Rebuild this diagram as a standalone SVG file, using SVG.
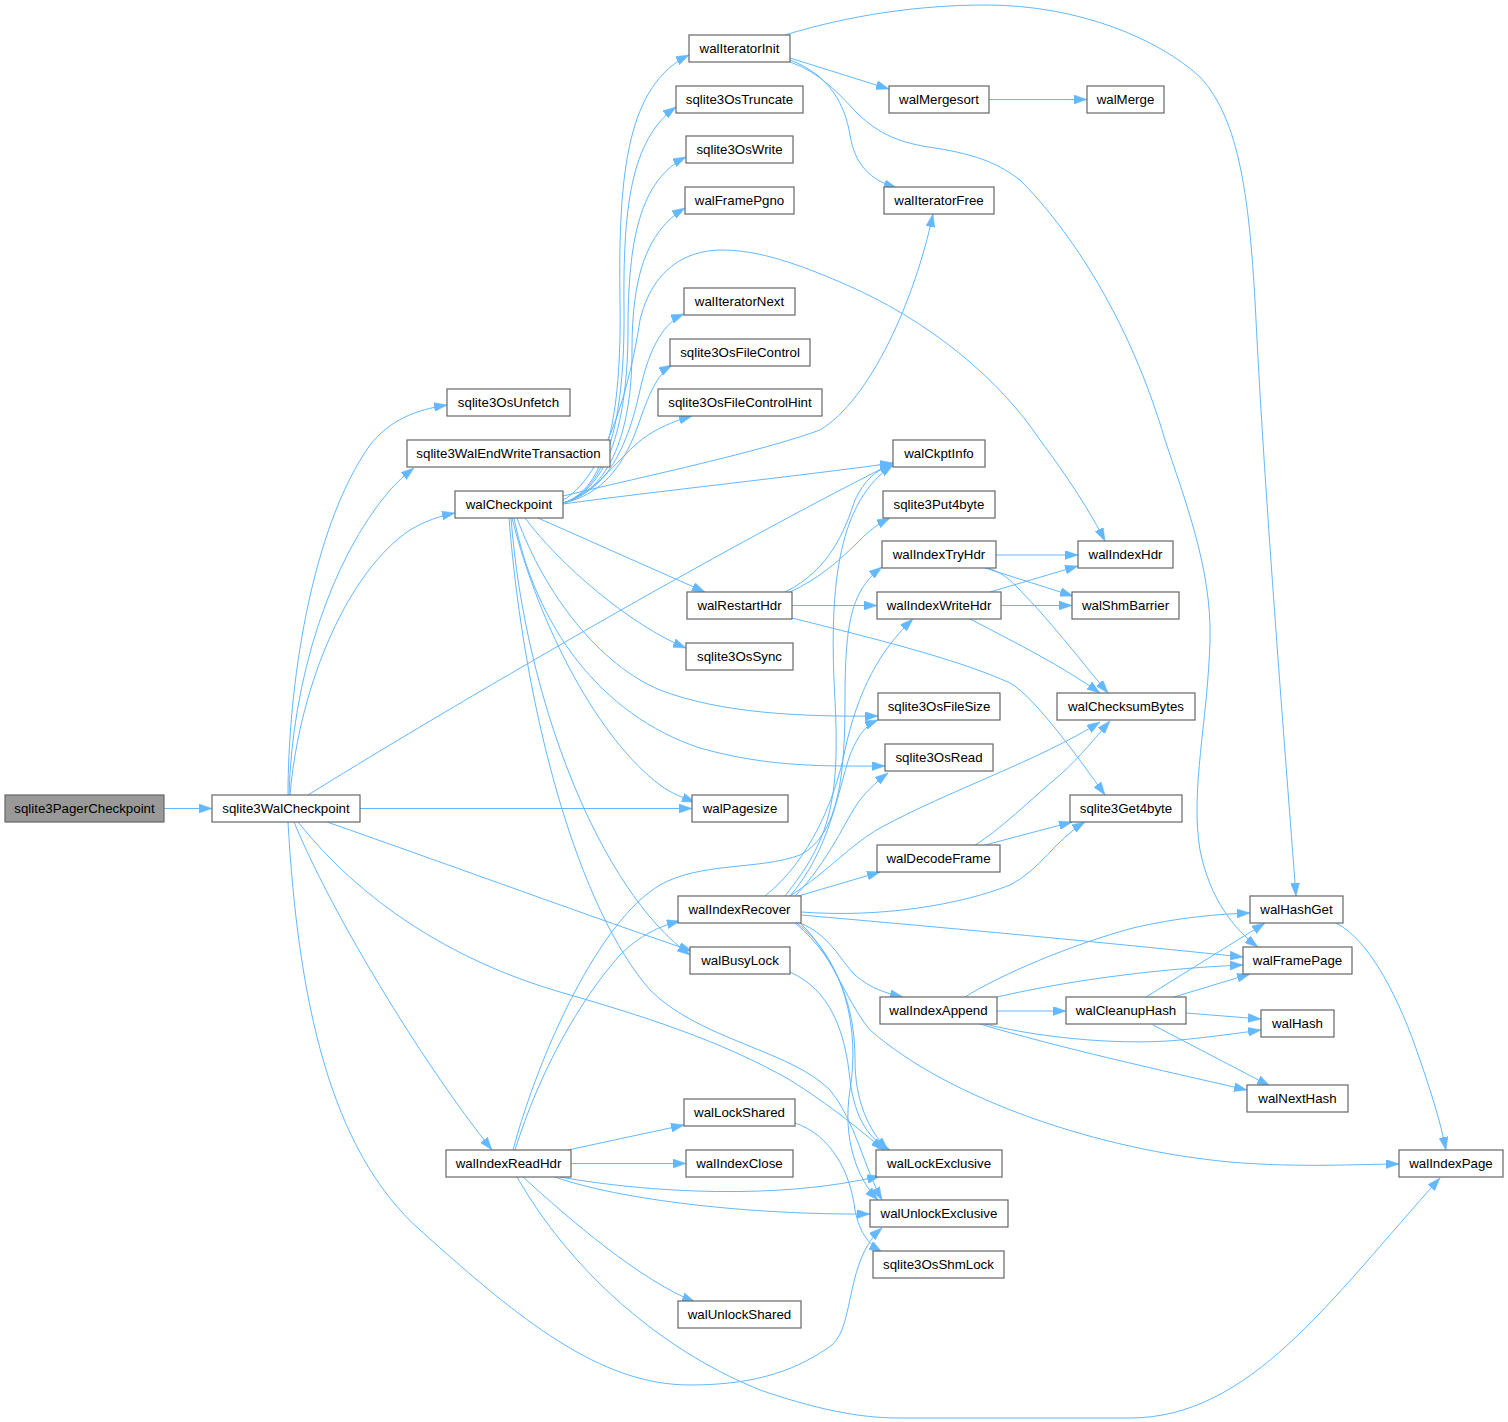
<svg xmlns="http://www.w3.org/2000/svg" width="1508" height="1422" viewBox="0 0 1508 1422">
<style>
.n rect{fill:#ffffff;stroke:#666666;stroke-width:1.2}
.n.root rect{fill:#999999}
.n text{font-family:"Liberation Sans",Arial,sans-serif;font-size:13.3px;fill:#000000;text-anchor:middle}
.e path{fill:none;stroke:#63b8ff;stroke-width:1;marker-end:url(#ah)}
</style>
<defs>
<marker id="ah" markerUnits="userSpaceOnUse" markerWidth="13" markerHeight="9" refX="13" refY="4.5" orient="auto" viewBox="0 0 13 9">
<path d="M0,0 L13,4.5 L0,9 z" fill="#63b8ff" stroke="#63b8ff" stroke-width="0.5"/>
</marker>
</defs>
<rect width="1508" height="1422" fill="#ffffff"/>
<g id="edges" class="e">
<path d="M164,808.5 L212,808.5"/>
<path d="M288,795 C288,690 310,530 370,445 C390,420 415,410 447,405"/>
<path d="M289,795 C292,680 330,560 390,490 C398,481 405,475 414,468"/>
<path d="M290,795 C300,680 350,570 410,530 C425,521 440,516 455,513"/>
<path d="M308,795 C420,725 700,560 893,463"/>
<path d="M360,808.5 L692,808.5"/>
<path d="M327,822 C450,865 600,920 692,951"/>
<path d="M298,822 C360,900 450,960 560,992 C640,1015 720,1040 790,1080 C830,1105 860,1130 884,1150"/>
<path d="M294,822 C330,910 420,1060 492,1150"/>
<path d="M288,822 C298,1000 330,1150 420,1230 C520,1320 600,1385 690,1385 C760,1385 800,1368 832,1345 C855,1325 845,1260 882,1228"/>
<path d="M563,503 C605,490 622,420 620,300 C618,170 628,85 689,55"/>
<path d="M563,503 C607,490 625,420 624,310 C623,210 630,140 676,107"/>
<path d="M563,503 C609,490 628,420 628,330 C628,240 640,180 686,157"/>
<path d="M563,503 C611,490 632,430 632,350 C632,280 645,232 685,208"/>
<path d="M563,500 C600,480 628,400 640,320 C652,270 685,250 722,250 C760,250 800,265 840,282 C930,320 1000,380 1040,440 C1070,480 1092,515 1105,541"/>
<path d="M563,503 C603,492 626,455 640,390 C650,345 665,322 684,314"/>
<path d="M563,503 C602,495 625,465 640,420 C650,390 660,372 672,365"/>
<path d="M563,503 C600,492 618,455 648,435 C664,425 678,420 692,416"/>
<path d="M563,496 C650,475 760,452 820,430 C870,400 915,300 933,214"/>
<path d="M563,504 C650,492 800,476 893,463"/>
<path d="M538,518 L705,592"/>
<path d="M525,518 C560,565 630,625 686,648"/>
<path d="M517,518 C545,595 600,665 660,690 C720,713 800,717 878,716"/>
<path d="M514,518 C535,625 600,715 700,748 C770,768 830,766 885,766"/>
<path d="M512,518 C540,630 600,740 660,785 C672,794 684,798 695,802"/>
<path d="M511,518 C525,700 600,890 690,955"/>
<path d="M509,518 C525,720 580,910 650,990 C700,1040 790,1050 830,1090 C855,1120 865,1170 882,1200"/>
<path d="M790,58 L889,89"/>
<path d="M790,60 C830,75 845,105 850,135 C855,165 870,180 897,188"/>
<path d="M790,62 C820,72 840,95 857,113 C880,135 900,143 935,148 C980,155 1000,165 1020,180 C1070,230 1130,320 1165,440 C1185,500 1212,570 1210,640 C1208,720 1190,790 1200,850 C1210,900 1235,930 1258,947"/>
<path d="M785,35 C850,15 920,5 986,5 C1080,5 1160,40 1200,77 C1240,120 1250,200 1256,320 C1265,500 1285,750 1296,896"/>
<path d="M989,99.5 L1087,99.5"/>
<path d="M785,592 C830,570 845,530 855,500 C865,480 875,470 893,465"/>
<path d="M790,592 C820,578 840,560 860,540 C870,530 878,524 890,518"/>
<path d="M792,605.5 L877,605.5"/>
<path d="M792,618 C880,640 960,660 1010,683 C1035,697 1080,760 1105,795"/>
<path d="M996,555 L1078,555"/>
<path d="M985,568 L1073,596"/>
<path d="M988,568 C1000,572 1008,578 1015,585 C1050,620 1080,660 1108,693"/>
<path d="M990,592 L1078,566"/>
<path d="M1001,605.5 L1072,605.5"/>
<path d="M970,619 C1020,645 1060,665 1100,693"/>
<path d="M985,845 L1072,822"/>
<path d="M975,845 C1000,830 1030,800 1060,775 C1080,757 1095,738 1110,721"/>
<path d="M785,896 C830,840 840,800 835,700 C828,580 840,500 893,465"/>
<path d="M790,896 C830,850 838,790 850,755 C858,735 866,725 878,720"/>
<path d="M795,896 C830,860 845,820 860,800 C868,790 876,782 888,773"/>
<path d="M795,897 L880,872"/>
<path d="M790,896 C830,870 850,845 880,828 C950,790 1040,760 1100,722"/>
<path d="M801,912 C880,918 960,905 1010,885 C1040,870 1055,840 1085,822"/>
<path d="M801,915 C950,928 1100,942 1243,957"/>
<path d="M800,923 C830,935 840,960 855,975 C870,988 885,993 903,997"/>
<path d="M800,923 C830,950 845,1000 870,1030 C950,1100 1100,1150 1230,1162 C1300,1168 1360,1164 1399,1164"/>
<path d="M795,923 C840,960 855,1010 855,1060 C855,1100 868,1130 888,1150"/>
<path d="M797,923 C845,960 860,1030 850,1090 C842,1140 858,1180 878,1200"/>
<path d="M765,896 C810,860 835,800 845,750 C858,690 880,650 913,619"/>
<path d="M513,1150 C540,1050 600,920 660,885 C700,862 760,870 800,855 C840,835 845,770 845,700 C845,620 852,590 882,567"/>
<path d="M515,1150 C540,1070 580,1000 620,955 C640,935 660,926 680,921"/>
<path d="M568,1150 L684,1125"/>
<path d="M571,1163.5 L686,1163.5"/>
<path d="M560,1177 C650,1193 780,1200 880,1176"/>
<path d="M555,1177 C620,1200 750,1215 870,1214"/>
<path d="M523,1177 C570,1220 640,1280 695,1302"/>
<path d="M517,1177 C570,1270 660,1350 760,1390 C830,1414 870,1418 900,1418 L1130,1418 C1250,1418 1330,1300 1440,1178"/>
<path d="M790,972 C830,990 845,1030 850,1080 C855,1120 870,1140 890,1150"/>
<path d="M795,1123 C830,1135 850,1170 855,1210 C860,1235 870,1245 882,1252"/>
<path d="M965,997 C1000,975 1070,945 1133,928 C1180,917 1220,914 1250,913"/>
<path d="M997,997 C1080,978 1170,968 1243,965"/>
<path d="M997,1011 L1066,1011"/>
<path d="M985,1024 C1050,1040 1130,1045 1180,1040 C1210,1037 1240,1033 1261,1030"/>
<path d="M980,1024 C1060,1048 1160,1070 1247,1090"/>
<path d="M1146,997 L1265,923"/>
<path d="M1174,997 L1250,974"/>
<path d="M1186,1013 L1261,1019"/>
<path d="M1153,1025 L1270,1086"/>
<path d="M1336,923 C1370,940 1400,1000 1420,1060 C1432,1095 1440,1120 1446,1150"/>
</g>
<g id="sqlite3PagerCheckpoint" class="n root"><rect x="5" y="795" width="159" height="27"/><text x="84.5" y="813">sqlite3PagerCheckpoint</text></g>
<g id="sqlite3WalCheckpoint" class="n"><rect x="212" y="795" width="148" height="27"/><text x="286" y="813">sqlite3WalCheckpoint</text></g>
<g id="sqlite3OsUnfetch" class="n"><rect x="447" y="389" width="123" height="27"/><text x="508.5" y="407">sqlite3OsUnfetch</text></g>
<g id="sqlite3WalEndWriteTransaction" class="n"><rect x="407" y="440" width="203" height="27"/><text x="508.5" y="458">sqlite3WalEndWriteTransaction</text></g>
<g id="walCheckpoint" class="n"><rect x="455" y="491" width="108" height="27"/><text x="509" y="509">walCheckpoint</text></g>
<g id="walIndexReadHdr" class="n"><rect x="446" y="1150" width="125" height="27"/><text x="508.5" y="1168">walIndexReadHdr</text></g>
<g id="walIteratorInit" class="n"><rect x="689" y="35" width="101" height="27"/><text x="739.5" y="53">walIteratorInit</text></g>
<g id="sqlite3OsTruncate" class="n"><rect x="676" y="86" width="127" height="27"/><text x="739.5" y="104">sqlite3OsTruncate</text></g>
<g id="sqlite3OsWrite" class="n"><rect x="686" y="136" width="107" height="27"/><text x="739.5" y="154">sqlite3OsWrite</text></g>
<g id="walFramePgno" class="n"><rect x="685" y="187" width="109" height="27"/><text x="739.5" y="205">walFramePgno</text></g>
<g id="walIteratorNext" class="n"><rect x="684" y="288" width="111" height="27"/><text x="739.5" y="306">walIteratorNext</text></g>
<g id="sqlite3OsFileControl" class="n"><rect x="670" y="339" width="140" height="27"/><text x="740" y="357">sqlite3OsFileControl</text></g>
<g id="sqlite3OsFileControlHint" class="n"><rect x="658" y="389" width="164" height="27"/><text x="740" y="407">sqlite3OsFileControlHint</text></g>
<g id="walRestartHdr" class="n"><rect x="687" y="592" width="105" height="27"/><text x="739.5" y="610">walRestartHdr</text></g>
<g id="sqlite3OsSync" class="n"><rect x="686" y="643" width="107" height="27"/><text x="739.5" y="661">sqlite3OsSync</text></g>
<g id="walPagesize" class="n"><rect x="692" y="795" width="96" height="27"/><text x="740" y="813">walPagesize</text></g>
<g id="walIndexRecover" class="n"><rect x="678" y="896" width="123" height="27"/><text x="739.5" y="914">walIndexRecover</text></g>
<g id="walBusyLock" class="n"><rect x="690" y="947" width="100" height="27"/><text x="740" y="965">walBusyLock</text></g>
<g id="walLockShared" class="n"><rect x="684" y="1099" width="111" height="27"/><text x="739.5" y="1117">walLockShared</text></g>
<g id="walIndexClose" class="n"><rect x="686" y="1150" width="107" height="27"/><text x="739.5" y="1168">walIndexClose</text></g>
<g id="walUnlockShared" class="n"><rect x="678" y="1301" width="123" height="27"/><text x="739.5" y="1319">walUnlockShared</text></g>
<g id="walMergesort" class="n"><rect x="889" y="86" width="100" height="27"/><text x="939" y="104">walMergesort</text></g>
<g id="walIteratorFree" class="n"><rect x="884" y="187" width="110" height="27"/><text x="939" y="205">walIteratorFree</text></g>
<g id="walCkptInfo" class="n"><rect x="893" y="440" width="92" height="27"/><text x="939" y="458">walCkptInfo</text></g>
<g id="sqlite3Put4byte" class="n"><rect x="883" y="491" width="112" height="27"/><text x="939" y="509">sqlite3Put4byte</text></g>
<g id="walIndexTryHdr" class="n"><rect x="882" y="541" width="114" height="27"/><text x="939" y="559">walIndexTryHdr</text></g>
<g id="walIndexWriteHdr" class="n"><rect x="877" y="592" width="124" height="27"/><text x="939" y="610">walIndexWriteHdr</text></g>
<g id="sqlite3OsFileSize" class="n"><rect x="878" y="693" width="122" height="27"/><text x="939" y="711">sqlite3OsFileSize</text></g>
<g id="sqlite3OsRead" class="n"><rect x="885" y="744" width="108" height="27"/><text x="939" y="762">sqlite3OsRead</text></g>
<g id="walDecodeFrame" class="n"><rect x="877" y="845" width="123" height="27"/><text x="938.5" y="863">walDecodeFrame</text></g>
<g id="walIndexAppend" class="n"><rect x="880" y="997" width="117" height="27"/><text x="938.5" y="1015">walIndexAppend</text></g>
<g id="walLockExclusive" class="n"><rect x="876" y="1150" width="126" height="27"/><text x="939" y="1168">walLockExclusive</text></g>
<g id="walUnlockExclusive" class="n"><rect x="870" y="1200" width="138" height="27"/><text x="939" y="1218">walUnlockExclusive</text></g>
<g id="sqlite3OsShmLock" class="n"><rect x="873" y="1251" width="131" height="27"/><text x="938.5" y="1269">sqlite3OsShmLock</text></g>
<g id="walMerge" class="n"><rect x="1087" y="86" width="77" height="27"/><text x="1125.5" y="104">walMerge</text></g>
<g id="walIndexHdr" class="n"><rect x="1078" y="541" width="95" height="27"/><text x="1125.5" y="559">walIndexHdr</text></g>
<g id="walShmBarrier" class="n"><rect x="1072" y="592" width="107" height="27"/><text x="1125.5" y="610">walShmBarrier</text></g>
<g id="walChecksumBytes" class="n"><rect x="1057" y="693" width="138" height="27"/><text x="1126" y="711">walChecksumBytes</text></g>
<g id="sqlite3Get4byte" class="n"><rect x="1070" y="795" width="112" height="27"/><text x="1126" y="813">sqlite3Get4byte</text></g>
<g id="walCleanupHash" class="n"><rect x="1066" y="997" width="120" height="27"/><text x="1126" y="1015">walCleanupHash</text></g>
<g id="walHashGet" class="n"><rect x="1250" y="896" width="93" height="27"/><text x="1296.5" y="914">walHashGet</text></g>
<g id="walFramePage" class="n"><rect x="1243" y="947" width="109" height="27"/><text x="1297.5" y="965">walFramePage</text></g>
<g id="walHash" class="n"><rect x="1261" y="1010" width="73" height="27"/><text x="1297.5" y="1028">walHash</text></g>
<g id="walNextHash" class="n"><rect x="1247" y="1085" width="101" height="27"/><text x="1297.5" y="1103">walNextHash</text></g>
<g id="walIndexPage" class="n"><rect x="1399" y="1150" width="104" height="27"/><text x="1451" y="1168">walIndexPage</text></g>
</svg>
